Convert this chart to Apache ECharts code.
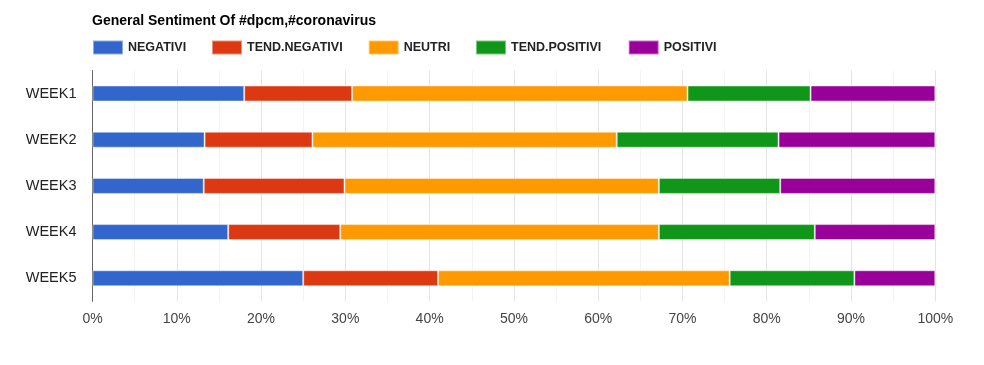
<!DOCTYPE html>
<html>
<head>
<meta charset="utf-8">
<script src="https://cdn.jsdelivr.net/npm/echarts@6/dist/echarts.min.js"></script>
<style>
html,body{margin:0;padding:0;background:#fff;}
#chart{width:984px;height:365px;}
</style>
</head>
<body>
<div id="chart"></div>
<script>
const titleText = 'General Sentiment Of #dpcm,#coronavirus';
const categories = ['WEEK1', 'WEEK2', 'WEEK3', 'WEEK4', 'WEEK5'];
const seriesNames = ['NEGATIVI', 'TEND.NEGATIVI', 'NEUTRI', 'TEND.POSITIVI', 'POSITIVI'];
const negativi = [18.0, 13.3, 13.2, 16.1, 25.0];
const tendNegativi = [12.8, 12.8, 16.7, 13.3, 16.0];
const neutri = [39.8, 36.1, 37.3, 37.8, 34.6];
const tendPositivi = [14.6, 19.2, 14.4, 18.5, 14.8];
const positivi = [14.8, 18.6, 18.4, 14.3, 9.6];
const xTicks = [0, 10, 20, 30, 40, 50, 60, 70, 80, 90, 100];

const colors = ['#3366cc', '#dc3912', '#ff9900', '#109618', '#990099'];
const values = [negativi, tendNegativi, neutri, tendPositivi, positivi];
const legendLeft = [92, 211, 367.7, 475, 627.7];

const chart = echarts.init(document.getElementById('chart'), null, {renderer: 'canvas'});
const font = '"Liberation Sans", Arial, sans-serif';

chart.setOption({
  animation: false,
  color: colors,
  title: {
    text: titleText,
    left: 92,
    top: 14,
    padding: 0,
    textStyle: {fontFamily: font, fontSize: 14, fontWeight: 'bold', color: '#000'}
  },
  legend: seriesNames.map((name, i) => ({
    data: [name],
    left: legendLeft[i],
    top: 39.5,
    padding: 0,
    itemWidth: 30,
    itemHeight: 14,
    icon: 'rect',
    textStyle: {fontFamily: font, fontSize: 12.5, fontWeight: 'bold', color: '#222'}
  })),
  grid: {left: 92.5, right: 48.7, top: 70.4, height: 231, containLabel: false},
  xAxis: {
    type: 'value',
    min: xTicks[0],
    max: xTicks[xTicks.length - 1],
    interval: 10,
    axisLine: {show: false},
    axisTick: {show: false},
    axisLabel: {
      formatter: '{value}%',
      fontFamily: font, fontSize: 14, color: '#444', margin: 11
    },
    splitLine: {show: true, lineStyle: {color: '#e3e3e3', width: 1}},
    minorTick: {show: false, splitNumber: 2},
    minorSplitLine: {show: true, lineStyle: {color: '#f3f3f3', width: 1}}
  },
  yAxis: {
    type: 'category',
    data: categories,
    inverse: true,
    axisLine: {show: true, lineStyle: {color: '#666', width: 1}},
    axisTick: {show: false},
    axisLabel: {fontFamily: font, fontSize: 14.5, color: '#222', margin: 16},
    splitLine: {show: false}
  },
  series: seriesNames.map((name, i) => ({
    name: name,
    type: 'bar',
    stack: 'total',
    barWidth: 16,
    data: values[i],
    itemStyle: {borderColor: 'rgba(255,255,255,0.45)', borderWidth: 1}
  }))
});
</script>
</body>
</html>
